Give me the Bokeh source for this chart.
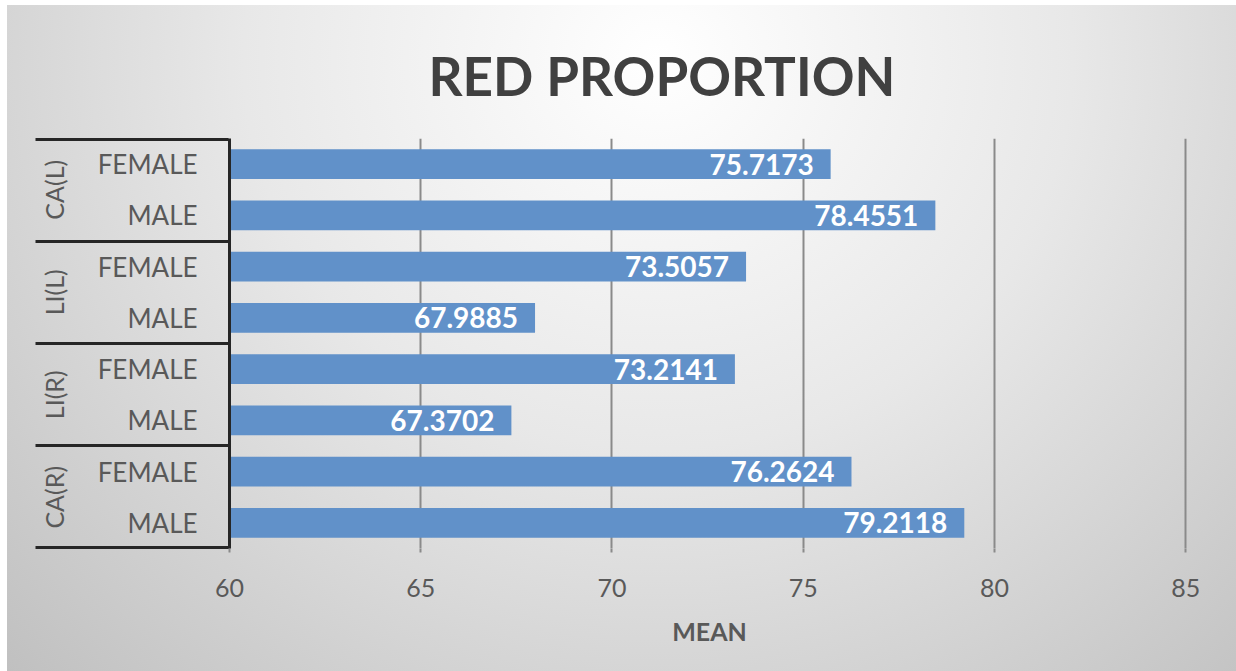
from bokeh.plotting import figure
from bokeh.models import FactorRange, ColumnDataSource, Range1d, FixedTicker, CategoricalAxis
from bokeh.embed import file_html
from bokeh.resources import INLINE
from bokeh.core.properties import value

# ---- data (top to bottom as in the chart) ----
groups = ["CA(L)", "CA(L)", "LI(L)", "LI(L)", "LI(R)", "LI(R)", "CA(R)", "CA(R)"]
sexes = ["FEMALE", "MALE", "FEMALE", "MALE", "FEMALE", "MALE", "FEMALE", "MALE"]
means = [75.7173, 78.4551, 73.5057, 67.9885, 73.2141, 67.3702, 76.2624, 79.2118]
x_ticks = [60, 65, 70, 75, 80, 85]
title_text = "RED PROPORTION"
x_title = "MEAN"

factors = list(zip(groups, sexes))
labels = [f"{v:.4f}" for v in means]
n_groups = len(dict.fromkeys(groups))

src = ColumnDataSource(dict(factor=factors, mean=means, label=labels))

FONT = "Lato"
LABEL_COLOR = "#595959"
LINE_DARK = "#262626"

x0, x1 = x_ticks[0], x_ticks[-1] + 0.1
p = figure(
    width=1229, height=666,
    y_range=FactorRange(factors=factors[::-1], group_padding=0, range_padding=0),
    x_range=Range1d(x0, x1),
    output_backend="svg", toolbar_location=None,
    min_border_left=222, min_border_right=47, min_border_top=133, min_border_bottom=123,
)
p.styles = {
    "background": "radial-gradient(ellipse farthest-corner at 53% 8%, #ffffff 0%, #e8e8e8 45%, #c0c0c0 100%)",
    "margin-left": "7px",
    "margin-top": "5px",
}
p.border_fill_alpha = 0
p.background_fill_alpha = 0
p.outline_line_color = None

# bars
p.hbar(y="factor", left=x_ticks[0], right="mean", height=0.58, source=src,
       fill_color="#6191C9", line_color=None)
p.text(x="mean", y="factor", text="label", source=src, x_offset=-17,
       text_align="right", text_baseline="middle", text_color="white",
       text_font=value(FONT), text_font_style="bold", text_font_size="28px")

# title
p.title.text = title_text
p.title.align = "left"
p.title.offset = 428 - 229
p.title.text_font = FONT
p.title.text_font_size = "53px"
p.title.text_font_style = "bold"
p.title.text_color = "#404040"
p.title.standoff = 64

# x axis
xa = p.xaxis[0]
xa.ticker = FixedTicker(ticks=x_ticks)
xa.axis_line_color = None
xa.major_tick_in = 0
xa.major_tick_out = 4
xa.major_tick_line_color = "#8a8a8a"
xa.major_tick_line_width = 2
xa.minor_tick_line_color = None
xa.major_label_standoff = 26
xa.major_label_text_font = FONT
xa.major_label_text_font_size = "25px"
xa.major_label_text_color = LABEL_COLOR
xa.axis_label = x_title
xa.axis_label_text_font = FONT
xa.axis_label_text_font_size = "25px"
xa.axis_label_text_font_style = "bold"
xa.axis_label_text_color = LABEL_COLOR
xa.axis_label_standoff = 16

# y axis (categories)
ya = p.yaxis[0]
ya.axis_line_color = LINE_DARK
ya.axis_line_width = 3
ya.major_tick_line_color = None
ya.minor_tick_line_color = None
ya.major_label_standoff = 26
ya.major_label_text_font = FONT
ya.major_label_text_font_size = "26px"
ya.major_label_text_color = LABEL_COLOR
ya.group_text_font = FONT
ya.group_text_font_size = "25px"
ya.group_text_font_style = "normal"
ya.group_text_color = LABEL_COLOR
ya.separator_line_color = None

# box lines of the category table: ticks of an outer axis at the group boundaries
boundary_names = [" " * (i + 1) for i in range(n_groups + 1)]
p.extra_y_ranges = {"box": FactorRange(factors=boundary_names, factor_padding=0,
                                       range_padding=-0.49, range_padding_units="absolute")}
box_axis = CategoricalAxis(y_range_name="box")
box_axis.axis_line_color = None
box_axis.major_tick_in = 193
box_axis.major_tick_out = 0
box_axis.major_tick_line_color = LINE_DARK
box_axis.major_tick_line_width = 3
box_axis.minor_tick_line_color = None
box_axis.major_label_text_color = None
box_axis.major_label_text_font_size = "1px"
box_axis.major_label_standoff = 0
p.add_layout(box_axis, "left")

p.xgrid.grid_line_color = "#8a8a8a"
p.xgrid.grid_line_width = 2
p.ygrid.grid_line_color = None

open("out.html", "w").write(file_html(p, INLINE))
